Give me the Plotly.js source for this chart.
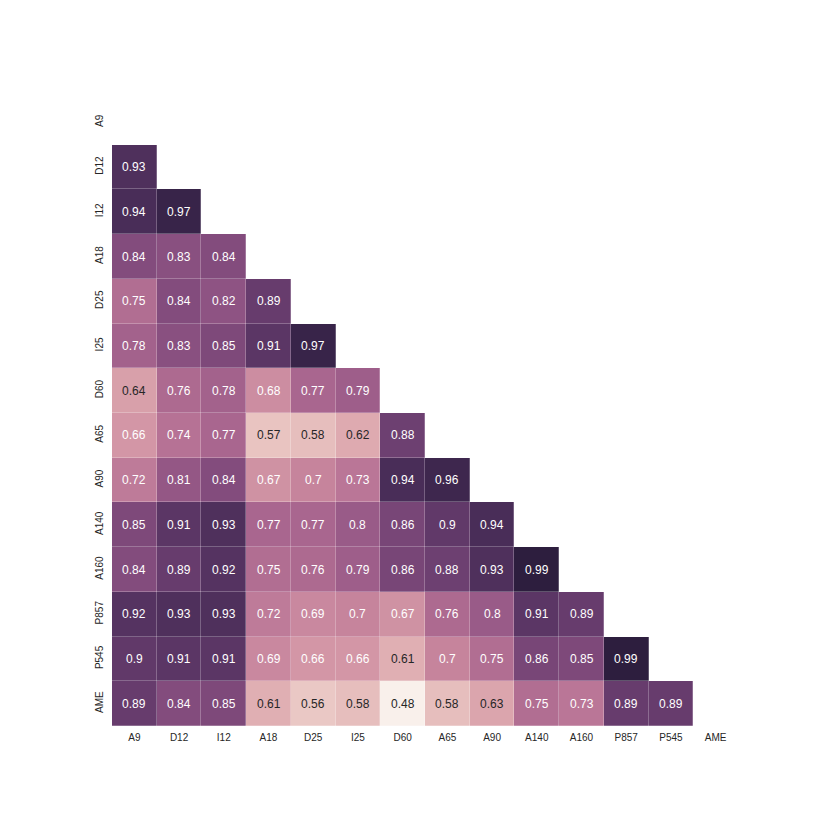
<!DOCTYPE html>
<html>
<head>
<meta charset="utf-8">
<script src="https://cdn.plot.ly/plotly-3.0.1.min.js"></script>
<style>html,body{margin:0;padding:0;background:#fff;}#chart{width:830px;height:830px;}</style>
</head>
<body>
<div id="chart"></div>
<script>
const labels = ["A9","D12","I12","A18","D25","I25","D60","A65","A90","A140","A160","P857","P545","AME"];
// lower triangle rows (row label -> values for columns A9..)
const rowA9   = [];
const rowD12  = [0.93];
const rowI12  = [0.94, 0.97];
const rowA18  = [0.84, 0.83, 0.84];
const rowD25  = [0.75, 0.84, 0.82, 0.89];
const rowI25  = [0.78, 0.83, 0.85, 0.91, 0.97];
const rowD60  = [0.64, 0.76, 0.78, 0.68, 0.77, 0.79];
const rowA65  = [0.66, 0.74, 0.77, 0.57, 0.58, 0.62, 0.88];
const rowA90  = [0.72, 0.81, 0.84, 0.67, 0.7, 0.73, 0.94, 0.96];
const rowA140 = [0.85, 0.91, 0.93, 0.77, 0.77, 0.8, 0.86, 0.9, 0.94];
const rowA160 = [0.84, 0.89, 0.92, 0.75, 0.76, 0.79, 0.86, 0.88, 0.93, 0.99];
const rowP857 = [0.92, 0.93, 0.93, 0.72, 0.69, 0.7, 0.67, 0.76, 0.8, 0.91, 0.89];
const rowP545 = [0.9, 0.91, 0.91, 0.69, 0.66, 0.66, 0.61, 0.7, 0.75, 0.86, 0.85, 0.99];
const rowAME  = [0.89, 0.84, 0.85, 0.61, 0.56, 0.58, 0.48, 0.58, 0.63, 0.75, 0.73, 0.89, 0.89];

const rows = [rowA9,rowD12,rowI12,rowA18,rowD25,rowI25,rowD60,rowA65,rowA90,rowA140,rowA160,rowP857,rowP545,rowAME];
const n = labels.length;
const z = rows.map(r => labels.map((_, j) => j < r.length ? r[j] : null));

let vmin = Infinity, vmax = -Infinity;
rows.forEach(r => r.forEach(v => { vmin = Math.min(vmin, v); vmax = Math.max(vmax, v); }));

// seaborn cubehelix_palette(light=.95, dark=.15, start=0, rot=.4, hue=.8)
function cubehelix(x) {
  const s = 0, r = 0.4, h = 0.8, g = 1;
  const xg = Math.pow(x, g);
  const a = h * xg * (1 - xg) / 2;
  const phi = 2 * Math.PI * (s / 3 + r * x);
  const c = (p0, p1) => Math.min(1, Math.max(0, xg + a * (p0 * Math.cos(phi) + p1 * Math.sin(phi))));
  return [c(-0.14861, 1.78277), c(-0.29227, -0.90649), c(1.97294, 0.0)];
}
const light = 0.95, dark = 0.15;
function colorAt(t) { return cubehelix(light + (dark - light) * t); }
const toCss = c => 'rgb(' + c.map(v => Math.round(v * 255)).join(',') + ')';
const colorscale = [];
for (let i = 0; i <= 40; i++) { const t = i / 40; colorscale.push([t, toCss(colorAt(t))]); }

function lum(c) {
  const lin = c.map(v => v <= 0.03928 ? v / 12.92 : Math.pow((v + 0.055) / 1.055, 2.4));
  return 0.2126 * lin[0] + 0.7152 * lin[1] + 0.0722 * lin[2];
}

const annotations = [];
rows.forEach((r, i) => r.forEach((v, j) => {
  const col = colorAt((v - vmin) / (vmax - vmin));
  annotations.push({
    x: labels[j], y: labels[i], text: String(v), showarrow: false,
    font: {family: 'Liberation Sans, Arial, sans-serif', size: 12, color: lum(col) > 0.408 ? '#262626' : '#ffffff'}
  });
}));

const trace = {
  type: 'heatmap', x: labels, y: labels, z: z,
  zmin: vmin, zmax: vmax, colorscale: colorscale, showscale: false,
  xgap: 0.25, ygap: 0.25, hoverongaps: false
};

const layout = {
  width: 830, height: 830,
  margin: {l: 112, r: 92, t: 100, b: 104},
  paper_bgcolor: '#fff', plot_bgcolor: '#fff',
  font: {family: 'Liberation Sans, Arial, sans-serif', size: 10, color: '#262626'},
  xaxis: {type: 'category', showgrid: false, zeroline: false, ticks: '', showline: false, tickangle: 0, ticklabelstandoff: 4},
  yaxis: {type: 'category', autorange: 'reversed', showgrid: false, zeroline: false, ticks: '', showline: false, tickangle: -90, ticklabelstandoff: 6},
  annotations: annotations
};

Plotly.newPlot('chart', [trace], layout, {displayModeBar: false, staticPlot: true});
</script>
</body>
</html>
